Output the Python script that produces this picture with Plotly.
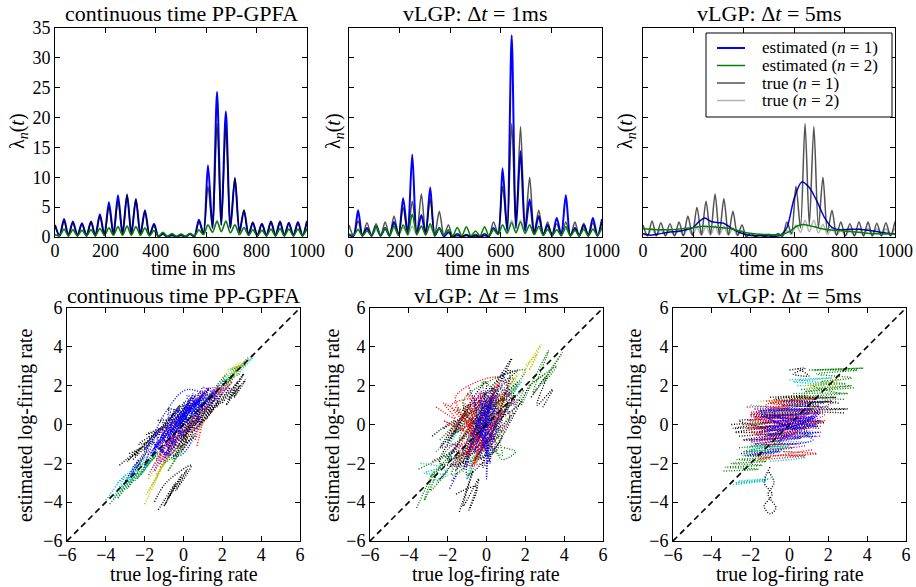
import plotly.graph_objects as go

FONT = "Liberation Serif, Times New Roman, serif"

# ---------------- top row data: firing rates lambda_n(t) ----------------
# knot times (trough / peak alternating) for oscillating rates, ms
t_knots = [0, 18, 36, 53, 71, 89, 107, 125, 143, 160, 178, 196, 214, 232, 250, 268,
           286, 303, 321, 339, 357, 375, 393, 410, 428, 446, 464, 482, 500, 518, 536,
           553, 571, 589, 607, 625, 643, 660, 678, 696, 714, 732, 750, 768, 785, 803,
           821, 839, 857, 875, 893, 910, 928, 946, 964, 982, 1000]

true_n1 = [2.0, 0.2, 2.7, 0.2, 2.4, 0.2, 2.2, 0.2, 2.5, 0.2, 3.5, 0.3, 5.0, 0.4, 6.0,
           0.5, 7.2, 0.5, 6.4, 0.4, 4.3, 0.3, 2.0, 0.1, 0.6, 0.05, 0.4, 0.05, 0.4, 0.05,
           0.6, 0.1, 2.5, 0.6, 8.5, 1.5, 19.0, 2.0, 18.5, 1.5, 10.0, 0.8, 4.5, 0.3, 2.5,
           0.2, 2.2, 0.2, 2.5, 0.2, 2.5, 0.2, 2.3, 0.2, 2.4, 0.2, 2.6]
true_n2 = [0.5, 0.2, 1.4, 0.2, 1.2, 0.2, 1.2, 0.2, 1.3, 0.2, 1.5, 0.3, 1.6, 0.3, 1.8,
           0.3, 1.9, 0.3, 1.8, 0.3, 1.5, 0.2, 1.1, 0.1, 0.6, 0.1, 0.4, 0.1, 0.4, 0.1,
           0.5, 0.2, 1.1, 0.4, 2.0, 0.8, 2.8, 0.9, 2.8, 0.7, 2.1, 0.4, 1.5, 0.3, 1.2,
           0.2, 1.2, 0.2, 1.4, 0.2, 1.5, 0.2, 1.4, 0.2, 1.4, 0.2, 1.5]

gpfa_est_n1 = [2.0, 0.2, 3.0, 0.2, 2.6, 0.2, 2.3, 0.2, 2.6, 0.2, 3.8, 0.3, 5.8, 0.4, 7.0,
               0.5, 7.0, 0.5, 6.3, 0.4, 4.5, 0.3, 2.2, 0.1, 0.5, 0.05, 0.3, 0.05, 0.3, 0.05,
               0.5, 0.1, 2.9, 0.6, 12.0, 1.5, 24.3, 2.0, 21.0, 1.5, 9.8, 0.8, 4.5, 0.3, 2.4,
               0.2, 2.2, 0.2, 2.6, 0.2, 2.6, 0.2, 2.4, 0.2, 2.5, 0.2, 2.7]
gpfa_est_n2 = [0.4, 0.2, 1.3, 0.2, 1.2, 0.2, 1.1, 0.2, 1.2, 0.2, 1.4, 0.3, 1.5, 0.3, 1.7,
               0.3, 1.8, 0.3, 1.7, 0.3, 1.5, 0.2, 1.1, 0.1, 0.8, 0.1, 0.6, 0.1, 0.5, 0.1,
               0.6, 0.2, 1.2, 0.4, 2.0, 0.8, 2.6, 0.9, 2.6, 0.7, 2.0, 0.4, 1.6, 0.3, 1.2,
               0.2, 1.1, 0.2, 1.3, 0.2, 1.4, 0.2, 1.3, 0.2, 1.3, 0.2, 1.4]

vlgp1_est_n1 = [0.3, 0.2, 4.5, 0.2, 1.5, 0.2, 1.8, 0.2, 1.5, 0.2, 2.5, 0.3, 6.5, 0.5, 13.8,
                0.5, 3.7, 0.4, 8.3, 0.2, 1.5, 0.1, 0.8, 0.05, 0.3, 0.05, 0.3, 0.05, 0.2, 0.05,
                0.3, 0.1, 1.5, 0.5, 11.5, 1.0, 33.8, 1.5, 14.4, 1.0, 6.3, 0.5, 3.5, 0.3, 2.0,
                0.2, 3.2, 0.3, 7.0, 0.2, 1.5, 0.2, 2.0, 0.2, 3.2, 0.2, 3.0]
vlgp1_est_n2 = [0.5, 0.3, 1.2, 0.2, 1.0, 0.3, 1.8, 0.3, 1.5, 0.3, 1.8, 0.3, 2.0, 0.5, 3.8,
                0.5, 1.8, 0.4, 2.2, 0.3, 1.5, 0.3, 1.2, 0.2, 1.6, 0.2, 1.7, 0.2, 1.0, 0.2,
                1.7, 0.2, 1.3, 0.4, 2.0, 0.6, 2.4, 0.7, 2.5, 0.6, 2.0, 0.4, 1.8, 0.3, 1.3,
                0.3, 1.2, 0.3, 1.7, 0.2, 1.1, 0.2, 1.3, 0.2, 1.3, 0.3, 1.6]

vlgp5_t_n1 = [0, 30, 60, 100, 150, 200, 220, 245, 270, 300, 320, 350, 380, 420, 480, 540,
              570, 600, 630, 660, 690, 720, 750, 780, 820, 860, 900, 940, 1000]
vlgp5_est_n1 = [0.6, 0.3, 0.5, 0.8, 1.0, 1.6, 2.5, 3.2, 2.6, 2.4, 2.3, 1.5, 0.8, 0.3, 0.2, 0.2,
                1.5, 6.5, 9.2, 8.3, 6.0, 3.3, 1.6, 1.2, 1.3, 1.3, 1.1, 0.8, 0.5]
vlgp5_t_n2 = [0, 100, 200, 240, 300, 350, 400, 450, 500, 550, 580, 610, 635, 680, 720, 800, 900, 1000]
vlgp5_est_n2 = [1.4, 1.2, 1.6, 1.8, 1.6, 1.4, 0.8, 0.5, 0.4, 0.4, 0.9, 1.8, 2.1, 1.7, 1.3, 1.0, 0.6, 0.5]

top_titles = ["continuous time PP-GPFA", "vLGP: Δ<i>t</i> = 1ms", "vLGP: Δ<i>t</i> = 5ms"]
legend_labels = ["estimated (<i>n</i> = 1)", "estimated (<i>n</i> = 2)", "true (<i>n</i> = 1)", "true (<i>n</i> = 2)"]
time_ticks = [0, 200, 400, 600, 800, 1000]
rate_ticks = [0, 5, 10, 15, 20, 25, 30, 35]
log_ticks = [-6, -4, -2, 0, 2, 4, 6]
diag = [-6, 6]

# ---------------- bottom row data: estimated vs true log-firing rate ----------------
# (true, estimated) points along trajectories; None separates trajectories
gpfa_b = [(-2.0, -1.2), (-1.2, -0.2), (-1.6, -1.6), (-0.7, 0.3), (-1.1, -1.0), (-0.2, 0.9), (-0.6, -0.6),
          (0.3, 1.3), (-0.1, 0.0), (0.8, 1.6), (0.4, 0.4), (1.3, 1.9), (0.9, 0.9), (1.7, 1.7), (1.2, 0.7),
          (0.5, 1.4), (0.8, 0.1), (0.0, 1.0), (0.3, -0.4), (-0.4, 0.5), (-0.1, -0.9), (-0.9, 0.0),
          (-0.5, -1.3), (-1.4, -0.4), (-0.9, -1.8), None,
          (-0.6, -0.2), (0.1, 0.6), (-0.3, -0.5), (0.4, 0.9), (0.0, 0.2), (0.7, 1.2), (0.2, 0.5), (1.0, 1.5),
          (0.5, 0.7), (1.4, 1.4), (0.6, 1.1), (-0.2, 0.3), (0.1, -0.3), (-0.8, -0.4), (-0.4, -0.9), None,
          (-3.0, -2.9), (-2.3, -1.8), (-2.7, -2.6), (-1.8, -1.3), None,
          (-1.8, -0.6), (-0.9, -1.5), (-0.4, 0.8), (0.6, -0.2), (1.0, 1.9), (1.8, 1.3), (0.2, 1.8),
          (-0.6, 1.1), (-1.5, -0.9), (-0.2, -1.6), (0.9, 0.2), (1.5, 1.9), (0.3, 0.8), (-0.8, -0.1), None,
          (-2.4, -2.0), (-1.6, -0.9), (-2.0, -2.1), (-1.0, -0.5), (-1.7, -1.5), (-0.6, 0.2), None,
          (-1.5, -1.2), (-0.4, -0.1), (-1.2, -1.4), (-0.2, 0.2), (-0.9, -0.8), (0.2, 1.0), (-0.5, -0.2),
          (0.6, 1.3), (0.0, 0.4), (1.1, 1.7), (0.4, 0.6), (1.5, 1.6), (0.8, 1.0), (0.2, 1.5), (0.5, 0.0),
          (-0.3, 0.7), (0.0, -0.6), (-0.8, 0.6), (-0.4, -1.1), (-1.2, -0.2), (-0.7, -1.6), (-1.6, -0.9), None,
          (-1.0, -0.4), (0.0, 0.7), (-0.6, -0.9), (0.5, 1.6), (-0.2, -0.2), (0.9, 1.3), (0.1, 0.0), (1.2, 1.2),
          (0.6, 0.4), (1.6, 1.5)]
gpfa_k = [(-3.3, -2.1), (-2.2, -1.2), (-2.9, -1.9), (-1.6, -0.6), (-2.5, -1.6), (-1.2, -0.2), (-2.0, -1.3),
          (-0.8, 0.3), (-1.5, -0.7), (-0.5, 0.6), (-1.1, -0.3), (-0.2, 1.0), (-0.7, 0.2), (0.1, 1.2),
          (-0.3, 0.4), (0.4, 1.4), None,
          (-1.3, -4.4), (-0.4, -3.0), (-1.0, -4.2), (-0.1, -2.6), (-0.8, -3.8), (0.2, -2.3), (-0.4, -3.4),
          (0.4, -2.1), (-0.9, -3.0), (-1.5, -4.0), None,
          (2.0, 1.1), (3.1, 2.6), (2.3, 1.3), (3.2, 2.3), (2.6, 1.4), (2.9, 2.0), (2.2, 1.0), (3.0, 2.4), None,
          (-0.5, -1.2), (0.5, 0.2), (-0.2, -1.0), (0.8, 0.4), (0.0, -0.7), (1.0, 0.8), (0.3, -0.3),
          (1.5, 1.0), (0.8, 0.0), (1.8, 1.2), (1.2, 0.3), None,
          (-1.0, -0.6), (0.6, 1.5), (-0.3, -0.1), (1.1, 1.7), None,
          (0.6, 0.0), (1.6, 1.3), (1.0, 0.1), (2.0, 1.6), (1.4, 0.6), (2.4, 1.9), (1.7, 0.9), (2.8, 2.2), None,
          (-0.4, -1.6), (0.2, -0.6), (-0.1, -1.4), (0.5, -0.5), None,
          (-2.4, -2.2), (-1.8, -1.1), (-2.6, -1.8), None,
          (-2.8, -1.5), (-1.6, -0.9), (-2.3, -1.0), (-1.4, -0.4), (-1.9, -0.5), (-0.9, 0.0), (-1.3, 0.2),
          (-0.4, 0.3), (-0.8, 0.8), (0.0, 0.6), None,
          (-0.8, -1.2), (0.3, -0.1), (-0.3, -1.2), (0.6, -0.6), (0.1, -0.9), (1.0, 0.2)]
gpfa_g = [(-3.8, -4.1), (-2.8, -2.9), (-3.4, -3.8), (-2.3, -2.4), (-2.9, -3.3), (-1.8, -1.9), (-2.4, -2.8),
          (-1.3, -1.4), None,
          (-1.2, -2.2), (-0.4, -1.0), (-1.0, -2.0), (-0.2, -1.4), (-0.8, -2.4), (0.0, -1.0), (-0.6, -1.8), None,
          (0.5, 0.3), (1.4, 1.6), (0.9, 0.4), (1.8, 1.9), (1.3, 0.9), (2.3, 2.2), (1.8, 1.5), (2.8, 2.9),
          (2.2, 2.0), (3.0, 3.1), (3.4, 3.5), None,
          (-2.2, -2.6), (-1.4, -1.4), (-2.0, -2.2), (-1.0, -1.2), None,
          (0.8, 0.8), (2.2, 2.6), (1.5, 1.4), (2.6, 2.7), (3.2, 3.1), (2.4, 2.8), None,
          (-3.2, -3.2), (-2.0, -1.7), (-2.6, -2.2), (-1.5, -1.7), (-1.9, -1.5), None,
          (-0.8, -1.6), (-0.1, -0.6), (-0.5, -1.8), (0.3, -0.8), None,
          (1.6, 1.7), (2.6, 2.4), (2.0, 2.2), (2.9, 2.6)]
gpfa_c = [(-4.0, -3.9), (-3.0, -2.6), (-3.6, -3.8), (-2.6, -2.4), (-3.2, -3.4), (-2.2, -2.0), (-2.8, -3.0),
          (-1.8, -1.6), None,
          (-0.6, -0.4), (0.2, 0.4), (-0.3, -0.6), (0.5, 0.6), (0.1, -0.2), (1.0, 1.2), None,
          (2.8, 2.6), (3.6, 3.5), (3.0, 3.0), None,
          (-2.5, -2.9), (-1.6, -1.8), (-2.2, -2.6), (-1.2, -1.2), None,
          (1.8, 2.0), (2.8, 3.0), (2.2, 2.2), None,
          (-3.4, -3.0), (-2.4, -2.2), (-3.0, -3.2), None,
          (0.4, 0.8), (1.2, 1.4), (0.7, 0.6)]
gpfa_y = [(-2.0, -4.1), (-1.3, -2.6), (-1.9, -3.6), (-1.0, -2.0), (-1.6, -3.1), (-0.7, -1.5), (-1.4, -2.6),
          (-0.4, -1.2), None,
          (0.0, -0.5), (0.8, 0.6), (0.4, -0.6), (1.2, 0.3), (0.6, -0.3), None,
          (2.0, 2.4), (2.9, 3.2), (2.4, 2.3), (3.0, 3.0), (2.2, 2.8), None,
          (-1.8, -2.8), (-1.1, -1.6), (-1.6, -2.2), (-0.8, -1.0), None,
          (2.4, 2.5), (3.2, 3.3), (2.6, 2.6), None,
          (-1.2, -1.8), (-0.3, -0.6), (-0.9, -1.7), (0.1, -0.9), None,
          (1.5, 1.2), (2.4, 2.2), (1.9, 1.4)]
gpfa_m = [(-1.8, -2.6), (-1.0, -1.2), (-1.5, -2.4), (-0.6, -0.9), (-1.2, -2.0), (-0.3, -0.6), (-0.9, -1.6),
          (0.0, -0.3), None,
          (0.8, 0.7), (1.6, 1.8), (1.2, 0.8), (2.0, 1.9), (1.6, 1.2), (2.5, 2.2), (1.9, 1.5), None,
          (-1.6, -1.6), (-0.6, -0.1), (-1.3, -1.1), None,
          (-1.2, -1.0), (-0.2, 0.2), (-0.8, -1.2), (0.2, -0.2), (-0.5, -1.0), None,
          (1.0, 1.0), (1.8, 2.0), (1.3, 1.3), (2.2, 2.3), None,
          (-1.4, -1.8), (-0.5, -0.6), (-1.0, -1.9), (-0.2, -1.0), (-0.6, -1.5), (0.3, -0.5), None,
          (1.4, 1.5), (2.3, 1.9), (1.8, 1.8)]
gpfa_r = [(-1.2, -1.6), (-0.3, -0.2), (-0.9, -1.1), (0.2, 0.3), (-0.4, -0.8), (0.7, 0.6), (0.1, -0.2),
          (1.2, 1.0), (0.5, 0.1), (1.5, 1.2), None,
          (0.7, -1.1), (1.0, 0.3), (0.6, -0.8), None,
          (0.6, 1.5), (1.3, 1.8), (0.9, 1.2), None,
          (-0.6, 0.1), (0.4, 1.1), (-0.2, 0.2), (0.9, 1.5), (0.2, 0.7), (1.3, 1.6), None,
          (-1.6, -0.8), (-0.8, 0.0), (-1.3, -1.0), None,
          (-0.6, -0.9), (0.4, 0.2), (0.0, -0.8), (0.9, 0.4), (0.4, -0.4), (1.4, 0.7), (0.8, 0.9), (1.7, 1.5), None,
          (-1.1, -0.5), (0.0, 0.5), (-0.7, -0.1)]

vlgp1_b = [(-0.6, -1.3), (0.2, 1.2), (-0.4, -0.8), (0.4, 1.6), (-0.2, -0.4), (0.5, 0.9), (-0.5, 0.1),
           (0.3, -1.0), (-0.1, 1.4), (0.0, -1.6), (-0.3, 0.6), (0.4, -0.3), (-0.7, -0.5), (0.1, 0.3),
           (-0.2, -1.1), (0.6, 0.5), (-0.4, 1.0), (0.2, -0.6), None,
           (0.05, -0.5), (0.0, -2.8), (0.1, -1.0), None,
           (0.8, 2.7), (1.2, 1.4), (0.6, 2.0), None,
           (-1.9, -3.3), (-1.5, -2.5), (-1.8, -2.9), None,
           (-0.9, 1.9), (-0.5, 0.5), (-1.2, -2.4), (-0.7, -0.8), None,
           (-1.0, -0.8), (0.6, 1.6), (-0.6, -1.4), (0.8, 0.2), (-0.3, 1.7), (0.3, -1.4), (-0.8, 0.4), None,
           (-0.5, -0.2), (0.3, 1.9), (-0.3, -1.8), (0.5, -0.1), (-0.6, 1.3), (0.2, -2.0), (-0.2, 0.9),
           (0.4, 0.6), (-0.7, -1.0), (0.1, 1.0)]
vlgp1_r = [(-1.6, 0.9), (-0.6, -0.4), (-1.2, 1.1), (-0.3, 0.0), (-1.0, -1.8), (0.2, 0.8), (-0.8, -1.2),
           (0.4, 1.8), (-0.6, -2.0), (0.5, 0.3), (-1.4, -0.8), (-0.2, 1.3), (-0.9, -0.2), (0.1, -1.3),
           (-1.1, 0.4), (0.6, 1.1), (-0.5, -1.6), None,
           (-2.6, 0.9), (-1.6, 0.3), (-2.2, 1.1), (-1.3, 0.5), None,
           (0.4, 1.9), (1.2, 2.2), (0.7, 1.4), None,
           (-1.6, -1.3), (-0.8, -0.8), (-1.4, -2.0), None,
           (-1.8, -2.2), (0.8, 0.6), (-1.4, -0.2), (1.2, 1.6), (-0.8, 0.8), (0.3, -1.2), (-1.6, 1.4),
           (0.6, 2.4), (-1.2, -1.5), (1.0, 0.0), None,
           (-2.0, -0.6), (-0.2, 1.6), (-1.6, -1.8), (0.0, 0.4), (-1.0, 1.6), (0.4, -0.8), (-2.2, 0.2),
           (-0.4, -0.6), (-1.8, 1.0), (0.8, 1.2), (-0.8, -2.2), (0.2, 0.0)]
vlgp1_k = [(-1.4, -4.5), (-0.7, -2.4), (-1.2, -4.2), (-0.4, -2.8), (-0.9, -4.4), (-0.5, -3.2), (-1.6, -3.6), None,
           (-2.8, -0.6), (-1.6, 0.2), (-2.4, -1.2), (-1.2, 0.3), (-2.0, -0.9), (-0.8, 1.0), (-1.7, -0.2), None,
           (0.2, 1.6), (1.3, 3.4), (0.8, 2.2), (1.6, 2.8), (0.5, 2.4), None,
           (2.3, 1.4), (3.1, 2.5), (2.6, 1.0), (3.4, 1.8), (2.9, 0.9), None,
           (0.3, 0.3), (1.1, 1.1), (0.6, -0.2), (1.4, 0.6), None,
           (-1.8, -1.5), (0.6, 1.8), (-1.2, -2.0), (1.0, 0.8), (-0.6, -1.8), (1.4, 1.6), (-1.6, -0.4),
           (0.0, 2.2), (-1.0, -2.6), (0.8, -0.6), (-2.0, -1.8), (1.6, 2.2), None,
           (-2.4, -2.8), (-1.4, -1.4), (-2.8, -1.9), None,
           (-2.2, -0.2), (0.4, 1.0), (-1.6, -2.4), (0.9, 2.6), (-0.4, -0.2), (1.8, 1.2), (-1.2, 0.8),
           (0.6, -1.2), (-2.4, -2.0), (1.2, 2.8), (-0.2, -2.2), (2.2, 2.0)]
vlgp1_g = [(-3.6, -4.3), (-2.7, -2.4), (-3.2, -3.9), (-2.3, -2.0), (-2.9, -3.4), (-2.0, -2.4), (-2.6, -3.0), None,
           (-3.5, -2.3), (-1.8, -1.6), (-2.9, -2.7), (-1.5, -1.2), None,
           (0.9, -1.2), (1.5, -1.4), (0.8, -1.8), (0.4, -1.1), None,
           (1.8, 1.0), (3.2, 3.8), (2.4, 1.6), (3.9, 3.7), (2.9, 2.1), (3.6, 3.0), (2.2, 2.0), (3.0, 2.6), None,
           (0.6, 0.8), (1.6, 2.0), (1.0, 0.9), (1.9, 1.8), (1.3, 0.6), None,
           (-1.0, -2.8), (-0.5, -1.4), (-1.6, -2.2), None,
           (-1.8, -0.5), (0.6, 1.2), (-1.2, -1.6), (1.4, 2.4), (-0.6, 0.4), (0.9, -0.4), (-1.5, 0.8),
           (0.2, -1.4), (-2.2, -1.6), (1.6, 1.2), None,
           (-2.4, -0.8), (0.4, 1.8), (-1.8, -2.6), (1.2, 0.4), (-0.2, 2.2), (0.8, -1.6), (-1.2, 1.2),
           (2.0, 2.8), (-0.8, -0.6), (1.0, 2.0)]
vlgp1_c = [(-3.4, -2.0), (-2.4, -2.2), (-3.2, -2.5), (-2.0, -2.6), (-2.8, -2.9), None,
           (-1.5, -1.8), (-0.6, -0.6), (-1.2, -1.4), None,
           (1.0, 1.5), (1.8, 2.2), (1.3, 1.6), None,
           (-0.3, -0.2), (0.5, 0.4), (0.0, -0.5), None,
           (-1.9, -1.0), (-0.4, 0.9), (-1.4, -2.2), (0.6, -0.4), (-2.2, -2.4), None,
           (-2.6, -1.4), (-0.8, 0.2), (-2.0, -1.8), (0.2, 1.4), (-1.0, -2.8), (0.4, 0.0)]
vlgp1_m = [(-1.2, -0.6), (-0.1, 0.6), (-0.8, -1.0), (0.3, 0.2), (-0.5, -1.2), (0.8, 0.6), (-0.2, -0.8), None,
           (-2.3, -1.2), (-1.4, -1.0), (-2.0, -1.5), None,
           (0.9, 1.8), (1.5, 1.0), (0.7, 1.4), None,
           (-1.5, 0.2), (0.6, 1.4), (-1.0, -1.6), (1.2, 0.4), (-0.4, 1.6), (0.4, -1.2), (-1.8, -1.0), None,
           (-1.2, 0.8), (0.8, 2.0), (-0.8, -0.2), (0.2, -1.8), (-1.8, -2.0), (1.4, 1.2), (-0.2, 0.2)]
vlgp1_y = [(1.8, 2.5), (2.8, 4.1), (2.2, 2.8), (2.6, 3.6), (2.0, 3.0), None,
           (-0.5, 0.5), (0.5, 1.0), (0.0, 0.2), None,
           (-1.4, -2.5), (-0.8, -1.6), None,
           (0.2, 2.0), (0.6, 1.3), None,
           (-1.0, -0.4), (0.8, 1.6), (-0.3, -1.4), (1.6, 2.6), (0.4, 0.6), None,
           (-1.6, -1.2), (0.0, 0.8), (-0.6, -2.0), (1.0, 0.4), (-1.2, 0.4)]

vlgp5_g = [(1.0, 2.8), (3.8, 2.9), (1.2, 2.8), (3.5, 2.8), (1.4, 2.6), (3.2, 2.4), (1.6, 2.2), (2.9, 2.1),
           (1.2, 2.0), (2.6, 1.6), None,
           (-3.4, -2.4), (-1.6, -2.3), (-3.3, -2.2), (-1.4, -2.1), (-3.0, -2.0), (-1.2, -1.9), (-2.7, -1.8),
           (-1.0, -1.7), (-2.4, -1.6), (-0.8, -1.5), None,
           (-2.2, -1.4), (0.2, -1.2), (-2.0, -1.1), None,
           (-1.4, 0.6), (1.2, 0.8), (-1.2, 0.4), (1.0, 0.5), None,
           (0.2, 1.6), (3.0, 1.6), (0.4, 1.4), (2.8, 1.3), None,
           (-2.6, -1.2), (-0.4, -1.0), (-2.4, -1.4), (-0.2, -1.2), None,
           (0.6, 1.8), (3.2, 2.0), (0.8, 1.7), (3.4, 1.9)]
vlgp5_c = [(-2.9, -3.1), (-1.2, -2.9), (-2.8, -3.0), (-1.0, -2.8), (-2.6, -2.9), None,
           (0.0, 2.3), (2.2, 2.4), (0.2, 2.2), (2.0, 2.1), (0.4, 2.3), None,
           (-1.0, -1.9), (0.8, -1.7), (-0.8, -1.6), None,
           (-2.0, 1.0), (-0.2, 0.8), None,
           (-1.4, -0.6), (1.2, -0.5), (-1.2, -0.8), (0.9, -0.9), None,
           (-2.2, -1.2), (0.0, -1.1), (-2.0, -1.3), (0.2, -1.4), None,
           (0.4, 2.0), (1.8, 2.0)]
vlgp5_k = [(-3.0, 0.0), (-1.0, 0.1), (-2.9, -0.2), (-0.9, -0.1), (-2.8, -0.4), (-1.0, -0.3), (-2.6, 0.2),
           (-0.8, 0.2), None,
           (-1.0, -2.2), (-1.3, -3.0), (-0.9, -3.6), (-1.3, -4.2), (-1.0, -4.6), (-0.7, -4.3), (-1.1, -3.6),
           (-0.8, -3.0), (-1.1, -2.4), None,
           (0.8, 0.8), (3.0, 0.8), (0.9, 0.7), (2.8, 0.6), None,
           (0.0, 2.8), (0.8, 2.9), (0.2, 2.6), (1.0, 2.5), (0.4, 2.9), None,
           (-1.0, 1.4), (0.9, 1.5), (-0.8, 1.3), (0.7, 1.2), None,
           (0.5, 0.2), (1.8, 0.1), (0.6, 0.0), (1.6, -0.1), None,
           (-2.0, 0.5), (0.5, 0.5), (-1.8, 0.4), (0.6, 0.3), None,
           (-0.6, 1.1), (2.2, 1.2), (-0.4, 1.0), (2.0, 0.9), None,
           (-0.2, 1.4), (2.4, 1.4), (0.0, 1.3), (2.6, 1.1), None,
           (-2.6, -0.6), (-0.6, -0.5), (-2.4, -0.8), (-0.4, -0.7)]
vlgp5_b = [(-1.8, -0.2), (1.4, 0.0), (-1.6, -0.4), (1.2, 0.3), (-1.2, -0.6), (1.5, 0.5), (-1.0, 0.3),
           (1.0, -0.4), (-0.8, 0.6), (1.6, 0.9), (-0.5, -0.9), (1.2, -0.8), (-1.4, 0.5), (0.8, 0.1), None,
           (-2.5, -1.5), (-0.5, -1.4), (-2.2, -1.6), (-0.4, -1.3), None,
           (-0.3, 1.2), (1.8, 1.1), (-0.1, 1.0), None,
           (-1.4, 0.1), (1.6, 0.2), (-1.2, -0.1), (1.4, -0.1), (-1.0, -0.3), (1.0, 0.0), (-0.8, 0.1),
           (1.2, 0.4), None,
           (-1.6, 0.6), (1.0, 0.6), (-1.4, 0.4), (1.3, 0.3), None,
           (-1.8, 0.8), (1.2, 0.8), (-1.6, 0.7), (1.5, 0.6), (-1.2, -0.4), (1.6, -0.4), (-1.0, -0.6),
           (1.4, -0.6), None,
           (-2.0, -0.8), (0.6, -0.7), (-1.8, -1.0), (0.4, -1.0)]
vlgp5_r = [(-2.2, 0.9), (0.0, 0.9), (-2.0, 0.6), (0.2, 0.4), (-2.1, 0.2), (-0.2, 0.0), (-1.8, -0.5),
           (0.4, -0.4), (-1.5, -0.8), (1.8, 0.2), (0.2, -0.1), (1.6, -0.2), None,
           (-0.3, -1.4), (1.4, -1.5), (-0.1, -1.6), None,
           (-1.0, 0.9), (1.0, 0.7), None,
           (-2.0, 0.5), (1.6, 0.6), (-1.8, 0.3), (1.4, 0.1), (-1.6, -0.2), (1.0, -0.5), (-1.4, -1.0),
           (0.6, -1.0), None,
           (-1.8, -1.6), (0.8, -1.6), (-1.6, -1.8), (1.2, -1.3), None,
           (-2.4, 0.0), (0.8, 0.1), (-2.2, -0.2), (1.0, -0.2), (-2.0, -0.4), (0.6, -0.6), None,
           (-1.2, 1.2), (1.4, 1.3), (-1.0, 1.1), (1.6, 0.9)]
vlgp5_m = [(-2.2, -0.8), (0.0, -0.6), (-2.0, -0.9), (0.3, -0.4), (-1.2, 1.0), (1.0, 1.1), (-1.0, 0.8),
           (1.8, 0.5), (-0.5, -0.2), (2.4, 1.2), None,
           (-1.6, 0.3), (1.4, 0.4), (-1.4, 0.1), (1.2, 0.2), (-1.0, -1.2), (0.8, -1.1), None,
           (-2.0, 0.4), (0.8, 0.4), (-1.8, 0.6), (1.0, 0.7), (-1.6, -0.6), (1.6, -0.6)]
vlgp5_y = [(-1.5, 1.2), (1.2, 1.4), (-1.0, 1.1), (1.5, 1.0), (-0.4, 0.6), None,
           (0.8, 2.0), (2.6, 2.3), (1.0, 1.9), (2.4, 2.0), None,
           (-2.0, -1.0), (-0.3, -0.9), None,
           (-1.8, 0.0), (1.0, 0.2), (-1.6, -0.2), (0.8, -0.2), None,
           (0.2, 1.0), (2.0, 1.2), None,
           (-1.4, 0.8), (1.4, 0.8), (-1.2, 0.6), (1.6, 0.6), None,
           (-1.0, -0.5), (1.2, -0.3)]

# ---------------- style ----------------
C = dict(b="#0000ff", g="#008000", r="#ff0000", c="#00bfbf", m="#bf00bf", y="#bfbf00", k="#000000")
LEG_COL = [C["b"], C["g"], "rgba(0,0,0,0.68)", "rgba(0,0,0,0.3)"]
LEG_W = [2, 1.5, 1.5, 1.5]
W, H = 916, 587

fig = go.Figure()


def px(v):
    return v / W


def py(v):
    return 1 - v / H


top_dom_x = [(55, 307), (349, 602), (643, 895)]
top_dom_y = (28, 237)
bot_dom_x = [(67, 300), (370, 603), (673, 906)]
bot_dom_y = (308, 541)

est_n1 = [(t_knots, gpfa_est_n1), (t_knots, vlgp1_est_n1), (vlgp5_t_n1, vlgp5_est_n1)]
est_n2 = [(t_knots, gpfa_est_n2), (t_knots, vlgp1_est_n2), (vlgp5_t_n2, vlgp5_est_n2)]

for i in range(3):
    xa = "x" if i == 0 else f"x{i + 1}"
    ya = "y" if i == 0 else f"y{i + 1}"
    fig.add_trace(go.Scatter(x=est_n1[i][0], y=est_n1[i][1], xaxis=xa, yaxis=ya, mode="lines",
                             line=dict(color=LEG_COL[0], width=2 if i < 2 else 1.5, shape="spline", smoothing=0.8),
                             name="estimated (n = 1)", showlegend=False))
    fig.add_trace(go.Scatter(x=t_knots, y=true_n1, xaxis=xa, yaxis=ya, mode="lines",
                             line=dict(color=LEG_COL[2], width=1.5, shape="spline", smoothing=0.8),
                             name="true (n = 1)", showlegend=False))
    fig.add_trace(go.Scatter(x=t_knots, y=true_n2, xaxis=xa, yaxis=ya, mode="lines",
                             line=dict(color=LEG_COL[3], width=1.5, shape="spline", smoothing=0.8),
                             name="true (n = 2)", showlegend=False))
    fig.add_trace(go.Scatter(x=est_n2[i][0], y=est_n2[i][1], xaxis=xa, yaxis=ya, mode="lines",
                             line=dict(color=LEG_COL[1], width=1.5, shape="spline", smoothing=0.8),
                             name="estimated (n = 2)", showlegend=False))

bottom_sets = [
    [("g", gpfa_g), ("c", gpfa_c), ("y", gpfa_y), ("m", gpfa_m), ("r", gpfa_r), ("k", gpfa_k), ("b", gpfa_b)],
    [("g", vlgp1_g), ("c", vlgp1_c), ("y", vlgp1_y), ("m", vlgp1_m), ("k", vlgp1_k), ("r", vlgp1_r), ("b", vlgp1_b)],
    [("g", vlgp5_g), ("c", vlgp5_c), ("y", vlgp5_y), ("k", vlgp5_k), ("m", vlgp5_m), ("r", vlgp5_r), ("b", vlgp5_b)],
]

for i, sets in enumerate(bottom_sets):
    xa, ya = f"x{i + 4}", f"y{i + 4}"
    for col, pts in sets:
        xs = [p[0] if p is not None else None for p in pts]
        ys = [p[1] if p is not None else None for p in pts]
        fig.add_trace(go.Scatter(x=xs, y=ys, xaxis=xa, yaxis=ya, mode="lines", showlegend=False,
                                 connectgaps=False,
                                 line=dict(color=C[col], width=1.4, dash="1px,1.6px", shape="spline", smoothing=1.0)))
    fig.add_trace(go.Scatter(x=diag, y=diag, xaxis=xa, yaxis=ya, mode="lines", showlegend=False,
                             line=dict(color="black", width=1.6, dash="6px,4px")))

axis_common = dict(showline=True, linecolor="black", linewidth=1, mirror="ticks", ticks="inside",
                   ticklen=5, tickcolor="black", showgrid=False, zeroline=False, automargin=False,
                   tickfont=dict(family=FONT, size=18, color="black"))

layout = dict(width=W, height=H, margin=dict(l=0, r=0, t=0, b=0, autoexpand=False), plot_bgcolor="white",
              paper_bgcolor="white", font=dict(family=FONT, color="black"), showlegend=False,
              template="none")

for i in range(3):
    xk = "xaxis" if i == 0 else f"xaxis{i + 1}"
    yk = "yaxis" if i == 0 else f"yaxis{i + 1}"
    anchor_x = "y" if i == 0 else f"y{i + 1}"
    anchor_y = "x" if i == 0 else f"x{i + 1}"
    layout[xk] = dict(axis_common, domain=[px(top_dom_x[i][0]), px(top_dom_x[i][1])], anchor=anchor_x,
                      range=[0, 1000], tickvals=time_ticks, ticklabelstandoff=-3)
    layout[yk] = dict(axis_common, domain=[py(top_dom_y[1]), py(top_dom_y[0])], anchor=anchor_y,
                      range=[0, 35], tickvals=rate_ticks, showticklabels=(i == 0))
    layout[f"xaxis{i + 4}"] = dict(axis_common, domain=[px(bot_dom_x[i][0]), px(bot_dom_x[i][1])],
                                   anchor=f"y{i + 4}", range=[-6, 6], tickvals=log_ticks, ticklabelstandoff=-3)
    layout[f"yaxis{i + 4}"] = dict(axis_common, domain=[py(bot_dom_y[1]), py(bot_dom_y[0])],
                                   anchor=f"x{i + 4}", range=[-6, 6], tickvals=log_ticks)

ann = []
top_cx = [181, 475.5, 769]
bot_cx = [183.5, 486.5, 789.5]
lam_x = [18, 334, 626]
est_x = [25, 332, 634]
for i in range(3):
    ann.append(dict(text=top_titles[i], x=px(top_cx[i]), y=py(13), xref="paper", yref="paper",
                    showarrow=False, font=dict(family=FONT, size=22), xanchor="center", yanchor="middle"))
    ann.append(dict(text=top_titles[i], x=px(bot_cx[i]), y=py(296), xref="paper", yref="paper",
                    showarrow=False, font=dict(family=FONT, size=22), xanchor="center", yanchor="middle"))
    ann.append(dict(text="time in ms", x=px(top_cx[i] + 12), y=py(268), xref="paper", yref="paper",
                    showarrow=False, font=dict(family=FONT, size=20), xanchor="center", yanchor="middle"))
    ann.append(dict(text="true log-firing rate", x=px(bot_cx[i]), y=py(574), xref="paper", yref="paper",
                    showarrow=False, font=dict(family=FONT, size=20), xanchor="center", yanchor="middle"))
    ann.append(dict(text="λ<sub><i>n</i></sub>(<i>t</i>)", x=px(lam_x[i]), y=py(131), xref="paper",
                    yref="paper", showarrow=False, font=dict(family=FONT, size=20), textangle=-90,
                    xanchor="center", yanchor="middle"))
    ann.append(dict(text="estimated log-firing rate", x=px(est_x[i]), y=py(426), xref="paper",
                    yref="paper", showarrow=False, font=dict(family=FONT, size=20), textangle=-90,
                    xanchor="center", yanchor="middle"))

# legend (panel 3, top right): box, line samples and labels
shapes = [dict(type="rect", xref="paper", yref="paper", x0=px(706), x1=px(892), y0=py(117), y1=py(33),
               line=dict(color="black", width=1), fillcolor="white", layer="above")]
leg_y = [48, 65.5, 83, 100.5]
for j in range(4):
    shapes.append(dict(type="line", xref="paper", yref="paper", x0=px(717), x1=px(745),
                       y0=py(leg_y[j]), y1=py(leg_y[j]), line=dict(color=LEG_COL[j], width=LEG_W[j]),
                       layer="above"))
    ann.append(dict(text=legend_labels[j], x=px(760), y=py(leg_y[j]), xref="paper", yref="paper",
                    showarrow=False, font=dict(family=FONT, size=17), xanchor="left", yanchor="middle"))

layout["annotations"] = ann
layout["shapes"] = shapes

fig.update_layout(**layout)
fig.write_html("out.html")
